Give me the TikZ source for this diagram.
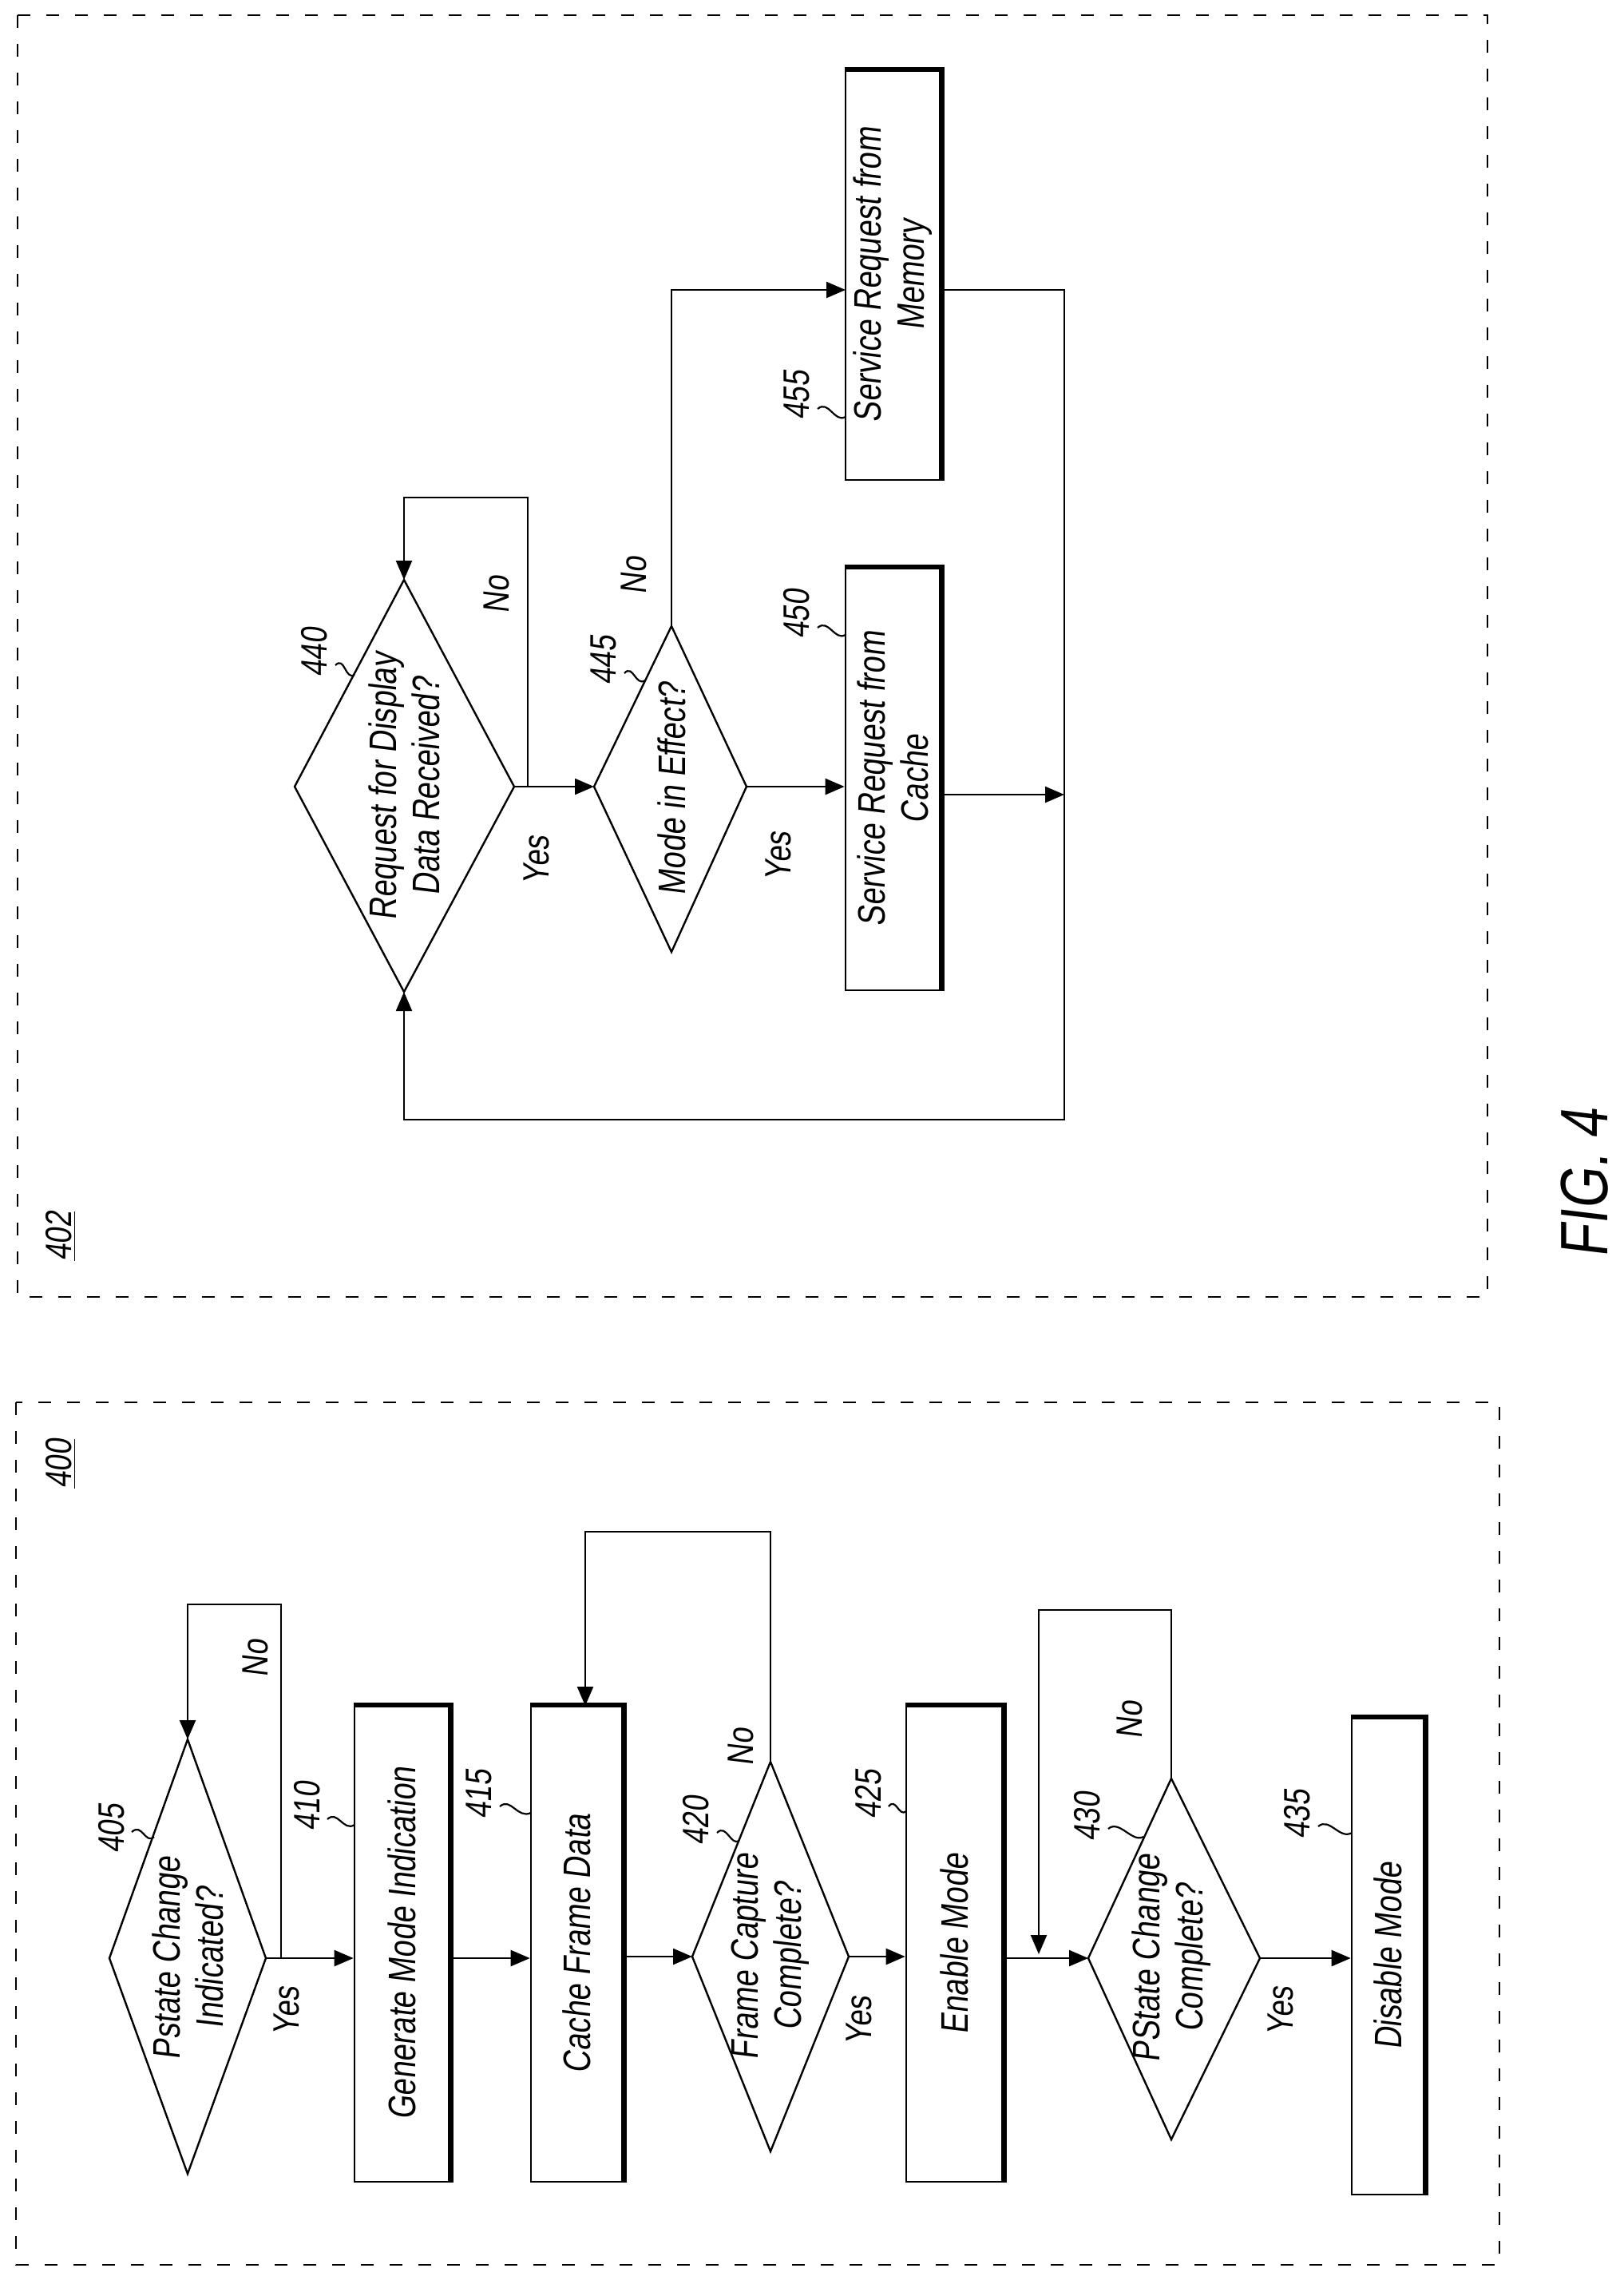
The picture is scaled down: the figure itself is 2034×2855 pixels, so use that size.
\documentclass[tikz,border=0pt]{standalone}
\usepackage{fontspec}
\setmainfont{Liberation Sans}[FakeStretch=0.8,FakeSlant=0.12]
\usetikzlibrary{arrows.meta,calc}
\begin{document}
\begin{tikzpicture}[x=0.5pt,y=-0.5pt,
  ln/.style={line width=1.2pt},
  arr/.style={ln,-{Triangle[length=12pt,width=10pt]}},
  frame/.style={line width=1.1pt,dash pattern=on 8pt off 10pt},
  box/.style={draw,line width=1.3pt,inner sep=0pt},
  txt/.style={font=\fontsize{24}{27}\selectfont,rotate=90,align=center},
  lab/.style={font=\fontsize{23}{26}\selectfont,rotate=90},
  sq/.style={line width=1.1pt}]
\useasboundingbox (0,0) rectangle (2034,2855);
% frames
\draw[frame] (22,19) rectangle (1863,1624);
\draw[frame] (20,1756) rectangle (1878,2836);
\node[lab] (l400) at (76,1833) {\underline{400}};
\node[lab] (l402) at (76,1548) {\underline{402}};
\node[font=\fontsize{42}{46}\selectfont,rotate=90] (fig) at (1985,1482) {FIG. 4};
% ---------- left flowchart
\coordinate (d405t) at (235,2178); \coordinate (d405b) at (235,2722);
\coordinate (d405l) at (137,2452); \coordinate (d405r) at (333,2452);
\draw[ln] (d405t)--(d405r)--(d405b)--(d405l)--cycle;
\node[txt] (t405) at (235,2452) {Pstate Change\\Indicated?};
\node[box,minimum width=59.5pt,minimum height=298pt] (b410) at (503.5,2434) {};
\node[txt] at (b410) {Generate Mode Indication};
\node[box,minimum width=57.5pt,minimum height=298pt] (b415) at (722.5,2434) {};
\node[txt] at (b415) {Cache Frame Data};
\coordinate (d420t) at (965,2206); \coordinate (d420b) at (965,2694);
\coordinate (d420l) at (867,2450); \coordinate (d420r) at (1063,2450);
\draw[ln] (d420t)--(d420r)--(d420b)--(d420l)--cycle;
\node[txt] (t420) at (965,2450) {Frame Capture\\Complete?};
\node[box,minimum width=60.5pt,minimum height=298pt] (b425) at (1195.5,2434) {};
\node[txt] at (b425) {Enable Mode};
\coordinate (d430t) at (1467,2227); \coordinate (d430b) at (1467,2679);
\coordinate (d430l) at (1363,2452); \coordinate (d430r) at (1578,2452);
\draw[ln] (d430t)--(d430r)--(d430b)--(d430l)--cycle;
\node[txt] (t430) at (1467,2452) {PState Change\\Complete?};
\node[box,minimum width=45.5pt,minimum height=298.5pt] (b435) at (1738.5,2449.5) {};
\node[txt] at (b435) {Disable Mode};
% ---------- right flowchart
\coordinate (d440t) at (506,726); \coordinate (d440b) at (506,1242);
\coordinate (d440l) at (369,985); \coordinate (d440r) at (644,985);
\draw[ln] (d440t)--(d440r)--(d440b)--(d440l)--cycle;
\node[txt] (t440) at (506,985) {Request for Display\\Data Received?};
\coordinate (d445t) at (841,784); \coordinate (d445b) at (841,1192);
\coordinate (d445l) at (744,985); \coordinate (d445r) at (935,985);
\draw[ln] (d445t)--(d445r)--(d445b)--(d445l)--cycle;
\node[txt] (t445) at (841,988) {Mode in Effect?};
\node[box,minimum width=59.5pt,minimum height=264.5pt] (b450) at (1118.5,975.5) {};
\node[txt] at (b450) {Service Request from\\Cache};
\node[box,minimum width=59.5pt,minimum height=256.5pt] (b455) at (1118.5,344.5) {};
\node[txt] at (b455) {Service Request from\\Memory};
% shadow edges on boxes
\foreach \b in {b410,b415,b425,b435,b450,b455}
  \draw[line width=3.2pt] (\b.north west)--(\b.north east)--(\b.south east);
% ---------- connectors left
\draw[arr] (d405r) -- (d405r -| b410.west);
\draw[arr] (b410.east |- d405r) -- (b415.west |- d405r);
\draw[arr] (b415.east |- d420l) -- (d420l);
\draw[arr] (d420r) -- (d420r -| b425.west);
\draw[arr] (b425.east |- d430l) -- (d430l);
\draw[arr] (d430r) -- (d430r -| b435.west);
\coordinate (j405) at (352,2452);
\draw[arr] (j405) -- (352,2009) -- (235,2009) -- (d405t);
\draw[arr] (d420t) -- (965,1918) -- (733,1918) -- (733,2136);
\coordinate (j430) at (1301,2447);
\draw[arr] (d430t) -- (1467,2016) -- (1301,2016) -- (j430);
% ---------- connectors right
\draw[arr] (d440r) -- (d445l);
\coordinate (j440) at (661,985);
\draw[arr] (j440) -- (661,623) -- (506,623) -- (d440t);
\draw[arr] (d445r) -- (d445r -| b450.west);
\draw[arr] (d445t) -- (841,363) -- (1059,363);
\draw[arr] (1178,363) -- (1333,363) -- (1333,1402) -- (506,1402) -- (d440b);
\coordinate (j450) at (1333,995);
\draw[arr] (1178,995) -- (j450);
% ---------- yes / no
\node[lab] at (320,2077) {No};
\node[lab] at (359,2518) {Yes};
\node[lab] at (928,2188) {No};
\node[lab] at (1076,2530) {Yes};
\node[lab] at (1415,2154) {No};
\node[lab] at (1604,2518) {Yes};
\node[lab] at (622,745) {No};
\node[lab] at (672,1077) {Yes};
\node[lab] at (794,721) {No};
\node[lab] at (975,1072) {Yes};
% ---------- reference numerals
\node[lab] (n405) at (140,2290) {405};
\draw[sq] (165,2294) .. controls (178,2282) and (182,2310) .. (193,2300);
\node[lab] (n410) at (385,2262) {410};
\draw[sq] (410,2278) .. controls (423,2266) and (430,2294) .. (444,2285);
\node[lab] (n415) at (600,2247) {415};
\draw[sq] (626,2262) .. controls (640,2250) and (648,2278) .. (665,2270);
\node[lab] (n420) at (872,2280) {420};
\draw[sq] (898,2295) .. controls (910,2283) and (915,2312) .. (926,2305);
\node[lab] (n425) at (1088,2247) {425};
\draw[sq] (1113,2262) .. controls (1122,2250) and (1126,2276) .. (1135,2268);
\node[lab] (n430) at (1362,2275) {430};
\draw[sq] (1388,2290) .. controls (1402,2278) and (1418,2308) .. (1432,2300);
\node[lab] (n435) at (1625,2272) {435};
\draw[sq] (1651,2287) .. controls (1665,2275) and (1678,2304) .. (1693,2295);
\node[lab] (n440) at (394,817) {440};
\draw[sq] (420,833) .. controls (432,821) and (432,852) .. (444,845);
\node[lab] (n445) at (756,827) {445};
\draw[sq] (782,843) .. controls (793,831) and (796,860) .. (808,852);
\node[lab] (n450) at (998,769) {450};
\draw[sq] (1024,786) .. controls (1038,774) and (1045,803) .. (1059,795);
\node[lab] (n455) at (998,495) {455};
\draw[sq] (1024,512) .. controls (1038,500) and (1045,530) .. (1059,522);
\end{tikzpicture}
\end{document}
